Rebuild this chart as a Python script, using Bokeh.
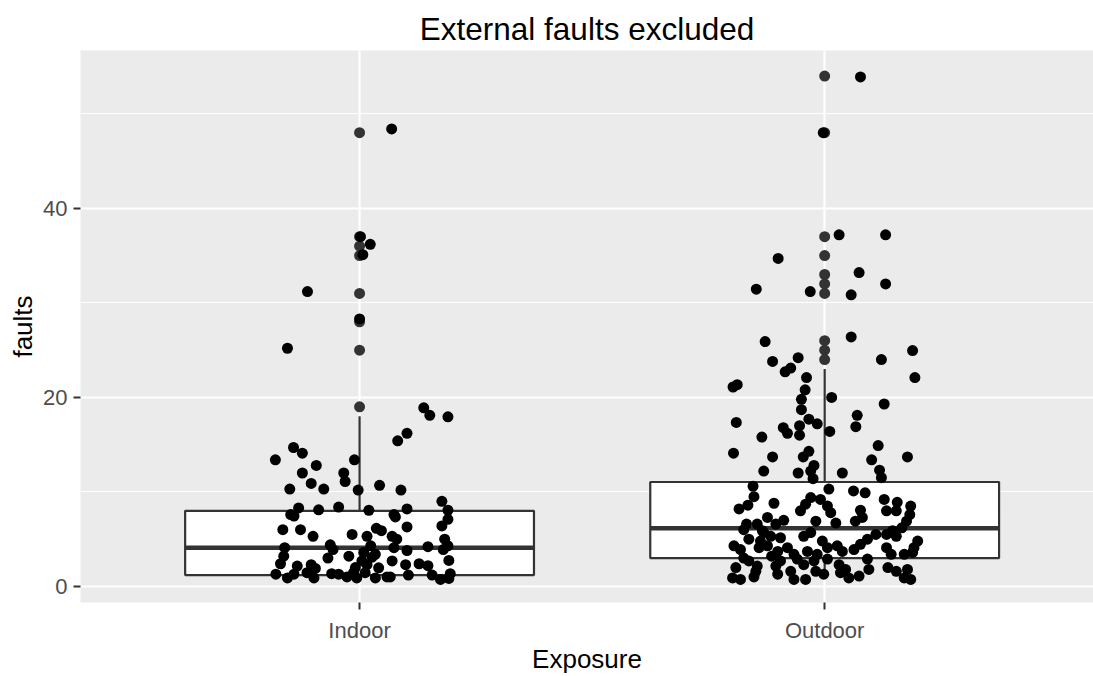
from bokeh.plotting import figure
from bokeh.models import Range1d, FixedTicker, ColumnDataSource
from bokeh.embed import file_html
from bokeh.resources import INLINE

# ---------------- data ----------------
categories = ["Indoor", "Outdoor"]
box_q1 = [1.2, 3.0]
box_median = [4.1, 6.15]
box_q3 = [8.0, 11.05]
whisker_low = [1.0, 1.0]
whisker_high = [18.0, 23.0]

indoor_outliers = [48, 37, 36, 35, 31, 28, 25, 19]
outdoor_outliers = [54, 48, 37, 35, 33, 32, 31, 26, 25, 24]

# jittered observations: horizontal jitter offset (category units) and value
indoor_jitter = [
    0.069, 0.002, 0.023, 0.007, -0.112, 0.0, -0.155,
    -0.142, -0.123, -0.181, -0.011, -0.093, -0.123, -0.034, -0.031, -0.104, -0.150,
    -0.077, -0.003, -0.045, -0.088, -0.131, -0.148, -0.141, -0.165, -0.127, -0.100,
    -0.016, -0.161, -0.063, -0.057, -0.163, -0.068, -0.023, -0.170, -0.134, -0.104,
    -0.095, -0.180, -0.155, -0.141, -0.113, -0.098, -0.060, -0.045, -0.027, -0.013,
    -0.006, -0.009,
    0.138, 0.151, 0.190, 0.102, 0.082, 0.043, 0.089, 0.177, 0.020, 0.102, 0.190,
    0.074, 0.077, 0.190, 0.102, 0.036, 0.047, 0.177, 0.016, 0.070, 0.080, 0.183,
    0.024, 0.074, 0.102, 0.147, 0.180, 0.190, 0.009, 0.034, 0.070, 0.099, 0.128,
    0.147, 0.192, 0.016, 0.041, 0.012, 0.034, 0.059, 0.066, 0.105, 0.156, 0.174,
    0.195, 0.192, 0.027, 0.005,
]
indoor_faults = [
    48.4, 37.0, 36.2, 35.1, 31.2, 28.3, 25.2,
    14.7, 14.1, 13.4, 13.4, 12.8, 12.0, 12.0, 11.1, 10.9, 10.3,
    10.3, 10.2, 8.4, 8.1, 8.3, 7.6, 7.45, 6.0, 6.0, 5.3,
    5.5, 4.1, 4.4, 3.9, 3.2, 3.0, 3.2, 2.4, 2.15, 2.3,
    1.9, 1.3, 0.9, 1.3, 1.45, 0.9, 1.35, 1.3, 1.0, 1.45,
    0.9, 2.0,
    18.9, 18.1, 17.95, 16.2, 15.4, 10.7, 10.2, 9.0, 8.06, 8.2, 8.06,
    7.6, 7.35, 7.1, 6.3, 6.15, 5.9, 6.4, 5.3, 5.3, 5.0, 5.0,
    4.3, 4.1, 3.8, 4.2, 3.9, 4.3, 3.6, 3.4, 2.7, 2.3, 2.4,
    2.2, 2.75, 2.3, 1.97, 1.45, 0.9, 1.0, 1.0, 1.2, 1.2, 0.74,
    1.35, 0.85, 3.1, 2.7,
]

outdoor_jitter = [
    0.077, -0.003, 0.031, 0.131, -0.100, 0.074, 0.131, -0.147, -0.031, 0.057,
    -0.128, 0.057, 0.189, -0.112, -0.057, 0.122, -0.085, -0.073, -0.039, 0.194,
    -0.197, -0.188, -0.042, -0.050, 0.015, 0.128, -0.050, 0.070, -0.034, -0.190,
    -0.016, 0.067, -0.089, -0.080, -0.054, -0.054, -0.135, 0.011, 0.115, -0.196,
    -0.112, -0.046, -0.034, 0.101, 0.178, -0.131, -0.057, -0.030, -0.023, 0.038,
    0.118, 0.122, -0.025,
    -0.154, -0.152, -0.165, -0.184, -0.168, -0.145, -0.174, -0.134, -0.163, -0.195,
    -0.181, -0.138, -0.141, -0.174, -0.163, -0.191, -0.145, -0.198, -0.181, -0.152,
    -0.148,
    0.009, 0.062, 0.087, -0.109, -0.030, -0.009, -0.041, -0.052, 0.006, 0.013,
    0.077, 0.081, 0.066, 0.024, -0.019, -0.123, -0.088, -0.105, -0.131, -0.116,
    -0.095, -0.045, -0.030, -0.005, 0.027, 0.038, 0.006, 0.063, 0.077, 0.092,
    0.110, -0.123, -0.101, -0.080, -0.066, -0.037, -0.016, -0.114, -0.095, -0.059,
    -0.045, -0.023, 0.006, 0.031, 0.045, 0.092, 0.095, -0.101, -0.073, -0.066,
    -0.041, -0.019, -0.002, 0.034, 0.052, 0.074, -0.105,
    0.128, 0.156, 0.185, 0.133, 0.154, 0.183, 0.176, 0.166, 0.146, 0.133,
    0.154, 0.200, 0.192, 0.133, 0.143, 0.171, 0.189, 0.136, 0.154, 0.178,
    0.171, 0.185,
]
outdoor_faults = [
    53.9, 48.0, 37.2, 37.2, 34.7, 33.2, 32.0, 31.45, 31.2, 30.85,
    25.9, 26.4, 24.95, 23.8, 24.2, 24.0, 22.7, 23.1, 22.1, 22.1,
    21.1, 21.35, 20.8, 19.8, 20.0, 19.3, 18.7, 18.1, 17.7, 17.35,
    17.2, 16.9, 16.8, 16.2, 17.0, 16.0, 15.8, 16.4, 14.9, 14.1,
    13.7, 13.7, 14.3, 13.4, 13.7, 12.2, 12.0, 12.2, 12.8, 12.0,
    12.3, 11.5, 11.4,
    10.6, 9.5, 8.6, 8.2, 6.6, 6.6, 6.0, 5.9, 5.0, 4.3,
    3.9, 4.8, 4.1, 3.0, 2.7, 2.0, 2.15, 0.9, 0.74, 1.0,
    1.6,
    10.3, 10.1, 9.9, 8.8, 9.4, 9.2, 8.7, 8.0, 8.5, 7.8,
    8.06, 7.3, 6.9, 6.7, 6.9, 7.3, 7.0, 6.6, 5.7, 5.3,
    5.15, 5.3, 5.7, 4.8, 4.3, 3.7, 4.1, 3.9, 4.45, 5.0,
    5.5, 4.3, 3.7, 4.1, 3.4, 3.7, 3.4, 3.2, 2.7, 2.9,
    2.3, 2.7, 2.9, 2.3, 1.8, 2.9, 1.8, 1.3, 1.6, 0.74,
    0.74, 1.6, 1.3, 1.45, 0.9, 1.1, 2.15,
    9.2, 8.9, 8.5, 8.0, 8.0, 7.6, 6.9, 6.2, 5.9, 5.5,
    5.3, 4.8, 4.1, 4.1, 3.4, 3.4, 3.6, 2.0, 1.6, 1.8,
    0.9, 0.74,
]

title_text = "External faults excluded"
x_title = "Exposure"
y_title = "faults"
y_ticks = [0, 20, 40]
y_minor = [10, 30, 50]

# ---------------- figure ----------------
FONT = "Liberation Sans"
xpos = [i + 1 for i in range(len(categories))]
box_w = 0.75

p = figure(width=1093, height=676, output_backend="svg", toolbar_location=None,
           x_range=Range1d(0.4, 2.578), y_range=Range1d(-1.7, 56.7),
           min_border_left=80, min_border_right=0, min_border_top=50,
           min_border_bottom=0)

p.background_fill_color = "#EBEBEB"
p.border_fill_color = "white"
p.outline_line_color = None

p.title.text = title_text
p.title.align = "center"
p.title.text_font = FONT
p.title.text_font_size = "31.5px"
p.title.text_font_style = "normal"
p.title.text_color = "black"
p.title.standoff = 7
p.title.offset = 4

# axes
for ax in (p.xaxis, p.yaxis):
    ax.axis_line_color = None
    ax.major_tick_line_color = "#333333"
    ax.major_tick_line_width = 2
    ax.major_tick_out = 7
    ax.major_tick_in = 0
    ax.minor_tick_line_color = None
    ax.major_label_text_color = "#4D4D4D"
    ax.major_label_text_font = FONT
    ax.major_label_text_font_size = "22px"
    ax.axis_label_text_font = FONT
    ax.axis_label_text_font_size = "26px"
    ax.axis_label_text_font_style = "normal"
    ax.axis_label_text_color = "black"

p.xaxis.axis_label = x_title
p.yaxis.axis_label = y_title
p.xaxis.ticker = FixedTicker(ticks=xpos)
p.xaxis.major_label_overrides = {x: c for x, c in zip(xpos, categories)}
p.xaxis.major_label_standoff = 8
p.xaxis.axis_label_standoff = -2
p.yaxis.ticker = FixedTicker(ticks=y_ticks, minor_ticks=y_minor)
p.yaxis.major_label_standoff = 6
p.yaxis.axis_label_standoff = 2

p.xgrid.ticker = FixedTicker(ticks=xpos)
p.ygrid.ticker = FixedTicker(ticks=y_ticks, minor_ticks=y_minor)
for g in (p.xgrid, p.ygrid):
    g.grid_line_color = "white"
    g.grid_line_width = 2.2
p.ygrid.minor_grid_line_color = "white"
p.ygrid.minor_grid_line_width = 1.1

# boxplot
box_src = ColumnDataSource(dict(
    x=xpos, q1=box_q1, med=box_median, q3=box_q3, lo=whisker_low, hi=whisker_high,
    xl=[x - box_w / 2 for x in xpos], xr=[x + box_w / 2 for x in xpos]))
p.segment(x0="x", y0="q3", x1="x", y1="hi", source=box_src,
          line_color="#333333", line_width=2.2)
p.segment(x0="x", y0="q1", x1="x", y1="lo", source=box_src,
          line_color="#333333", line_width=2.2)
p.vbar(x="x", width=box_w, bottom="q1", top="q3", source=box_src,
       fill_color="white", line_color="#333333", line_width=2.2)
p.segment(x0="xl", y0="med", x1="xr", y1="med", source=box_src,
          line_color="#333333", line_width=4.4)

# outliers (drawn by the boxplot, at the category centre)
out_x = [xpos[0]] * len(indoor_outliers) + [xpos[1]] * len(outdoor_outliers)
out_y = indoor_outliers + outdoor_outliers
p.scatter(x=out_x, y=out_y, size=11, fill_color="#333333", line_color=None)

# jittered points
jit_x = [xpos[0] + d for d in indoor_jitter] + [xpos[1] + d for d in outdoor_jitter]
jit_y = indoor_faults + outdoor_faults
p.scatter(x=jit_x, y=jit_y, size=11, fill_color="black", line_color=None)

open("out.html", "w").write(file_html(p, INLINE))
